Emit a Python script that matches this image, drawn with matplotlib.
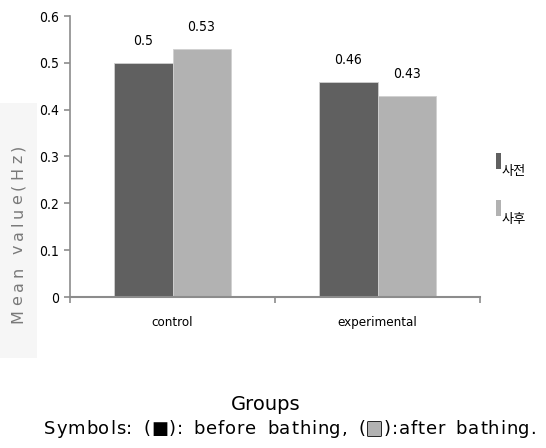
import numpy as np
import matplotlib.pyplot as plt
import matplotlib.patheffects as pe
from matplotlib.patches import Rectangle

groups = ['control', 'experimental']
before = [0.50, 0.46]
after = [0.53, 0.43]
series_names = ['사전', '사후']
value_labels = [['0.5', '0.46'], ['0.53', '0.43']]

dark = '#606060'
light = '#b2b2b2'
axis_col = '#8c8c8c'
narrow = dict(family='DejaVu Sans', fontstretch='condensed')
kr = ['Noto Sans CJK KR', 'DejaVu Sans']

W, H = 546, 448
fig = plt.figure(figsize=(W/100, H/100), dpi=100)
ax = fig.add_axes([70/W, 1-297/H, 410/W, 281/H])

x = np.arange(len(groups))
w = 0.283
b1 = ax.bar(x - w/2, before, w, color=dark, edgecolor='#d0d0d0', linewidth=0.6)
b2 = ax.bar(x + w/2, after, w, color=light, edgecolor='#d0d0d0', linewidth=0.6)

for bars, vals, labs in [(b1, before, value_labels[0]), (b2, after, value_labels[1])]:
    for r, v, lab in zip(bars, vals, labs):
        ax.annotate(lab, (r.get_x() + r.get_width()/2, v),
                    xytext=(0, 10.5), textcoords='offset points', ha='center', va='bottom',
                    fontsize=10, **narrow)

ax.set_xlim(-0.5, 1.5)
ax.set_ylim(0, 0.6)
ax.set_yticks(np.arange(0, 0.61, 0.1))
ax.set_yticklabels(['0', '0.1', '0.2', '0.3', '0.4', '0.5', '0.6'], fontsize=10, **narrow)
ax.set_xticks([-0.5, 0.5, 1.5])
ax.set_xticklabels([])
ax.tick_params(axis='both', color=axis_col, length=4, width=1.2, pad=4)

for s in ['top', 'right']:
    ax.spines[s].set_visible(False)
ax.spines['left'].set_color(axis_col)
ax.spines['bottom'].set_color(axis_col)
ax.spines['left'].set_linewidth(1.2)
ax.spines['bottom'].set_linewidth(1.5)

for xi, g in zip(x, groups):
    ax.text(xi, -0.055, g, ha='center', va='center', fontsize=9.5, **narrow)

# legend drawn by hand: thin swatch sitting a little above each label
for i, (name, col) in enumerate(zip(series_names, [dark, light])):
    top = 153 + i*47
    fig.add_artist(Rectangle((496/W, 1-(top+16)/H), 5/W, 16/H, transform=fig.transFigure,
                             facecolor=col, edgecolor='none'))
    fig.text(502/W, 1-(top+19)/H, name, ha='left', va='center', fontsize=9.5, family=kr)


def spaced_text(x0, y0, s, size, track, space_extra=0, vertical=False, colors=None, **kw):
    # lay out a string one character at a time with extra tracking between letters
    colors = colors or ['black'] * len(s)
    rot = 90 if vertical else 0
    if vertical:
        first = dict(ha='center', va='bottom')
        anchor = (0.5, 1)
    else:
        first = dict(ha='left', va='center')
        anchor = (1, 0.5)
    prev = fig.text(x0, y0, s[0], rotation=rot, fontsize=size, color=colors[0], **first, **kw)
    out = [prev]
    for i in range(1, len(s)):
        gap = track + (space_extra if s[i-1] == ' ' else 0)
        off = (0, gap) if vertical else (gap, 0)
        prev = ax.annotate(s[i], xy=anchor, xycoords=prev, xytext=off, textcoords='offset points',
                           rotation=rot, fontsize=size, color=colors[i], annotation_clip=False,
                           **first, **kw)
        out.append(prev)
    return out


# y-axis label with its shaded backdrop
fig.add_artist(Rectangle((0, 1-358/H), 37/W, 255/H, transform=fig.transFigure,
                         facecolor='#f6f6f6', edgecolor='none', zorder=0))
ylab = 'Mean value(Hz)'
spaced_text(18/W, 1-323/H, ylab, 11.5, 2.9, vertical=True,
            colors=['#7a7a7a'] * len(ylab), family='DejaVu Sans')

fig.text(266/W, 1-405/H, 'Groups', ha='center', va='center', fontsize=14, family='DejaVu Sans')

# caption, the second swatch is grey with a dark outline
caption = 'Symbols: (■): before bathing, (■):after bathing.'
cols = ['black'] * len(caption)
grey_idx = caption.rindex('■')
cols[grey_idx] = light
arts = spaced_text(44/W, 1-429/H, caption, 13, 0.6, space_extra=2.4, colors=cols,
                   family='DejaVu Sans')
arts[grey_idx].set_path_effects([pe.Stroke(linewidth=1.2, foreground='black'), pe.Normal()])

fig.savefig('out.png', dpi=100)
